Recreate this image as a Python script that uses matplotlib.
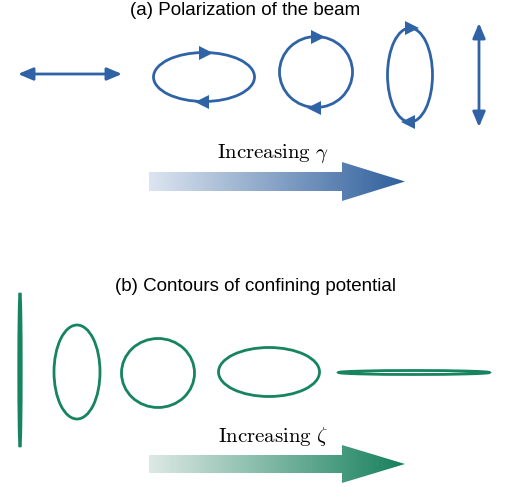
#! /usr/bin/env python3

import matplotlib
matplotlib.use('Agg')
import matplotlib.pyplot as plt
import numpy as np
from matplotlib.patches import Ellipse, FancyArrowPatch, Polygon

plt.rcParams['mathtext.fontset'] = 'cm'

blue = '#2f63a6'
green = '#16845f'

# (a) polarization ellipses: centre x, centre y, width, height (pixels)
pol_cx = [204, 316, 410]
pol_cy = [77, 72, 75]
pol_w = [101, 73, 45]
pol_h = [49, 71, 94]

# linear polarizations: start, end
lin_start = [(18, 74), (479, 23)]
lin_end = [(122, 74), (479, 127)]

# (b) contours of confining potential
pot_cx = [20, 77, 158, 269, 414]
pot_cy = [370, 372, 373, 372, 372.5]
pot_w = [2.5, 46, 73, 101, 151]
pot_h = [154, 94, 69, 49, 4]

fig = plt.figure(figsize=(5.10, 4.87), dpi=100)
ax = fig.add_axes([0, 0, 1, 1])
ax.set_xlim(0, 510)
ax.set_ylim(487, 0)
ax.axis('off')

ax.text(245, 15, '(a) Polarization of the beam', ha='center', va='baseline',
        fontsize=13.5, family='Liberation Sans')
ax.text(256, 291, '(b) Contours of confining potential', ha='center', va='baseline',
        fontsize=13.5, family='Liberation Sans')

for cx, cy, w, h in zip(pol_cx, pol_cy, pol_w, pol_h):
    ax.add_patch(Ellipse((cx, cy), w, h, fill=False, ec=blue, lw=2))
    ax.plot(cx + 2, cy - h / 2, marker='>', ms=9.5, color=blue, mew=0)
    ax.plot(cx - 2, cy + h / 2, marker='<', ms=9.5, color=blue, mew=0)

for a, b in zip(lin_start, lin_end):
    ax.add_patch(FancyArrowPatch(a, b, arrowstyle='<|-|>,head_length=0.9,head_width=0.38',
                                 mutation_scale=10, color=blue, lw=2,
                                 shrinkA=0, shrinkB=0))

for cx, cy, w, h in zip(pot_cx, pot_cy, pot_w, pot_h):
    ax.add_patch(Ellipse((cx, cy), w, h, fill=False, ec=green, lw=2))


def grad_arrow(y0, y1, hy0, hy1, c0, c1):
    x0, xh, xt = 149, 342, 405
    ym = (hy0 + hy1) / 2
    verts = [(x0, y0), (xh, y0), (xh, hy0), (xt, ym), (xh, hy1), (xh, y1), (x0, y1)]
    poly = Polygon(verts, closed=True, fc='none', ec='none')
    ax.add_patch(poly)
    t = np.linspace(0, 1, 256)
    c0 = np.array(matplotlib.colors.to_rgb(c0))
    c1 = np.array(matplotlib.colors.to_rgb(c1))
    img = (c0[None, :] * (1 - t[:, None]) + c1[None, :] * t[:, None])[None, :, :]
    im = ax.imshow(img, extent=(x0, xt, hy1, hy0), aspect='auto', interpolation='bilinear')
    im.set_clip_path(poly)


grad_arrow(172, 191, 162, 201, '#dde5f0', '#2f5f9c')
grad_arrow(455, 473, 445, 483, '#dde9e5', '#16805c')

ax.set_xlim(0, 510)
ax.set_ylim(487, 0)

ax.text(273, 158, r'$\mathrm{Increasing}\ \gamma$', ha='center', va='baseline', fontsize=15)
ax.text(273, 442, r'$\mathrm{Increasing}\ \zeta$', ha='center', va='baseline', fontsize=15)

fig.savefig('out.png', dpi=100)
